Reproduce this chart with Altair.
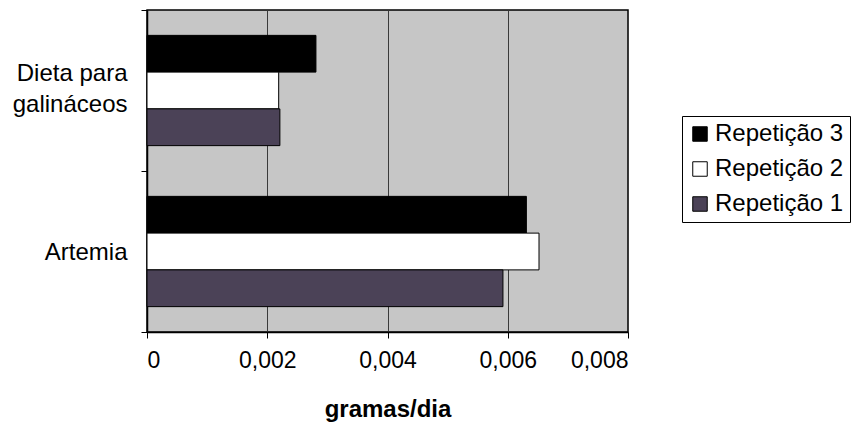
import altair as alt
import pandas as pd

categories = ["Dieta para galináceos", "Artemia"]
series = ["Repetição 3", "Repetição 2", "Repetição 1"]
rep3 = [0.00281, 0.00631]
rep2 = [0.00219, 0.00652]
rep1 = [0.00221, 0.00592]
x_ticks = [0, 0.002, 0.004, 0.006, 0.008]
colors = ["#000000", "#ffffff", "#4b4257"]

rows = []
for i, c in enumerate(categories):
    for s, vals in zip(series, [rep3, rep2, rep1]):
        rows.append({"categoria": c, "serie": s, "valor": vals[i]})
df = pd.DataFrame(rows)

FONT = "Liberation Sans"

chart = alt.Chart(df).mark_bar(stroke="black", strokeWidth=1).encode(
    x=alt.X("valor:Q",
            scale=alt.Scale(domain=[0, 0.008], nice=False),
            axis=alt.Axis(values=x_ticks, title="gramas/dia",
                          labelExpr="datum.value == 0 ? '0' : replace(format(datum.value, '.3f'), '.', ',')",
                          grid=True, gridColor="#3a3a3a", gridWidth=1,
                          tickSize=6, labelPadding=11, labelFontSize=23,
                          titleFontSize=24, titleFontWeight="bold", titlePadding=25)),
    y=alt.Y("categoria:N", sort=categories,
            scale=alt.Scale(paddingInner=0, paddingOuter=0),
            axis=alt.Axis(title=None, labelFontSize=24, labelLineHeight=31,
                          labelExpr="datum.value == 'Dieta para galináceos' ? ['Dieta para', 'galináceos'] : datum.value",
                          labelOffset={"condition": {"test": "datum.value == 'Dieta para galináceos'", "value": -17}, "value": 1},
                          labelPadding=14, tickSize=6, tickBand="extent", labelAlign="right")),
    yOffset=alt.YOffset("serie:N", sort=series, scale=alt.Scale(paddingInner=0, paddingOuter=0.69)),
    color=alt.Color("serie:N",
                    scale=alt.Scale(domain=series, range=colors),
                    legend=alt.Legend(title=None, orient="none", legendX=535, legendY=106,
                                      symbolType="square", symbolSize=210,
                                      symbolStrokeColor="black", symbolStrokeWidth=1,
                                      labelFontSize=24, rowPadding=11, labelOffset=3,
                                      strokeColor="black", padding=6,
                                      fillColor="white")),
).properties(
    width=481, height=322,
    autosize=alt.AutoSizeParams(type="none"),
    padding={"left": 147, "top": 10, "right": 224, "bottom": 95},
    background="white",
).configure_view(
    fill="#c6c6c6", stroke="black", strokeWidth=1.5
).configure_axis(
    labelFont=FONT, titleFont=FONT, labelColor="black", titleColor="black",
    domainColor="black", tickColor="black", domainWidth=1.5
).configure_legend(
    labelFont=FONT, labelColor="black"
)

chart.save("out.html", embed_options={"renderer": "svg", "actions": False})
